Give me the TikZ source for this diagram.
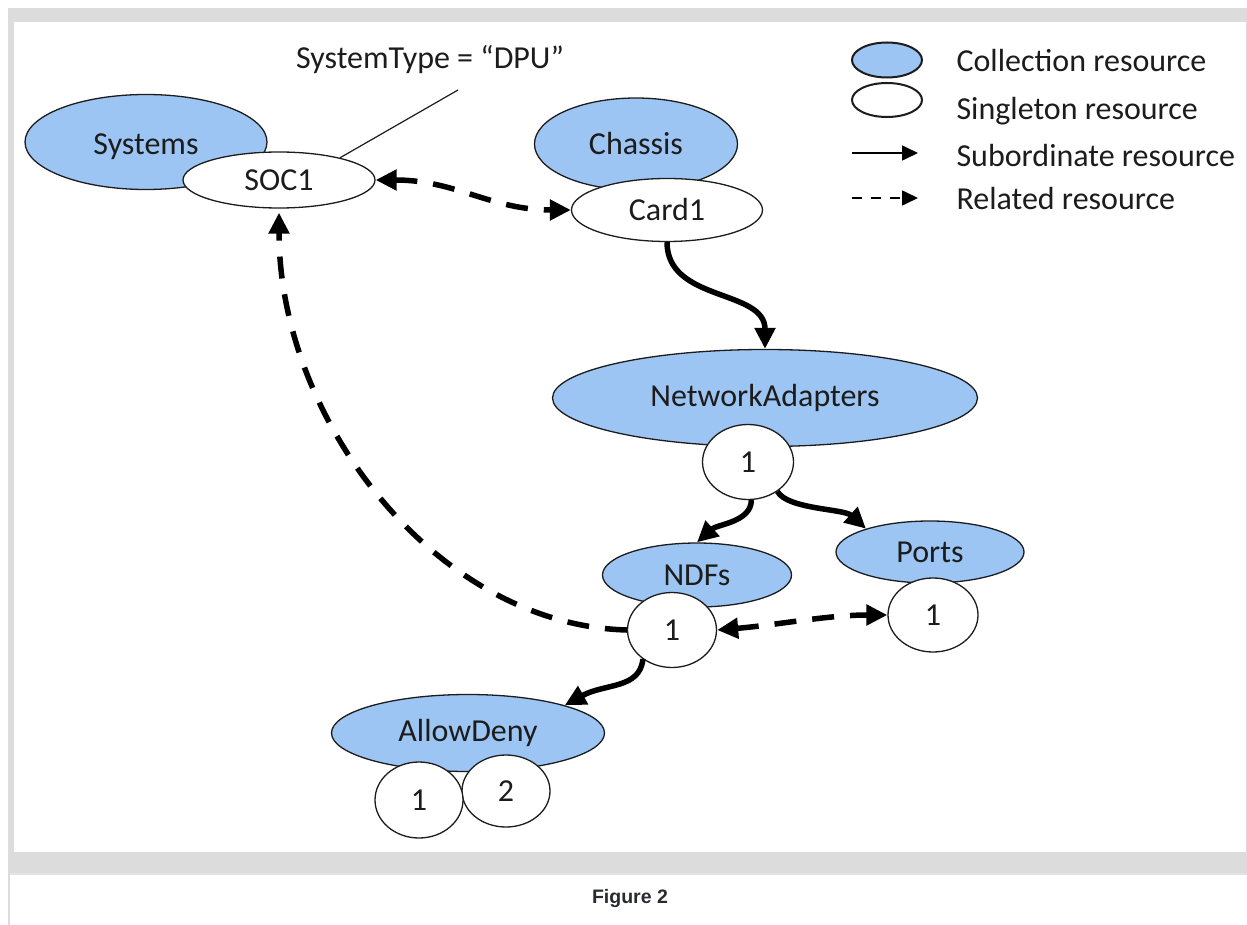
\documentclass[tikz,border=0pt]{standalone}
\usepackage{fontspec}
\setmainfont{Carlito}
\newfontfamily\capfont{Liberation Sans}
\usetikzlibrary{arrows.meta,shapes.geometric}
\definecolor{collblue}{RGB}{157,197,243}
\definecolor{framegray}{RGB}{220,220,220}
\definecolor{edgeline}{RGB}{222,228,234}
\definecolor{inkc}{RGB}{28,28,28}
\definecolor{capink}{RGB}{40,44,48}
\tikzset{
  base/.style={ellipse, draw=inkc, line width=1.3pt, inner sep=0pt, text=inkc, font=\fontsize{32}{37}\selectfont},
  coll/.style={base, fill=collblue},
  single/.style={base, fill=white},
  sz/.style 2 args={minimum width=#1pt, minimum height=#2pt},
  sub/.style={line width=5.5pt, draw=black, -{Triangle[length=21pt,width=20pt]}},
  rel/.style={line width=5.5pt, draw=black, dash pattern=on 22pt off 16pt},
  legtxt/.style={anchor=base west, text=inkc, font=\fontsize{32}{37}\selectfont},
}
\begin{document}
\begin{tikzpicture}[x=1pt,y=-1pt]
\useasboundingbox (0,0) rectangle (1247,925);
% frame
\fill[white] (0,0) rectangle (1247,925);
\fill[framegray] (8,8) rectangle (1247,873);
\fill[white] (14,22) rectangle (1245.5,852);
\fill[framegray] (8,873) rectangle (10,925);
\fill[edgeline] (10,873) rectangle (1247,875);

% nodes
\node[coll, sz={242}{95}, text height=26pt, text depth=0pt] (systems) at (146,142) {Systems};
\node[single, sz={192}{56}] (soc1) at (279,180) {SOC1};
\node[coll, sz={203}{92}] (chassis) at (636,144) {Chassis};
\node[single, sz={191}{63}] (card1) at (667,210) {Card1};
\node[coll, sz={425}{97}] (na) at (765,398) {NetworkAdapters};
\node[single, sz={91}{75}] (na1) at (748,462) {1};
\node[coll, sz={189}{64}] (ndfs) at (697,575) {NDFs};
\node[single, sz={89}{75}] (ndf1) at (672,630) {1};
\node[coll, sz={188}{62}] (ports) at (930,552) {Ports};
\node[single, sz={90}{74}] (ports1) at (933,615) {1};
\node[coll, sz={273}{77}] (allow) at (468,733) {AllowDeny};
\node[single, sz={88}{72}] (ad2) at (506,791) {2};
\node[single, sz={88}{76}] (ad1) at (419,800) {1};

% annotation
\node[anchor=base, text=inkc, font=\fontsize{32}{37}\selectfont] (systype) at (430,69) {SystemType = “DPU”};
\coordinate (stend) at (458,90);
\draw[line width=1.2pt, inkc] (stend) -- (soc1.20);

% subordinate connectors
\draw[sub] (card1.south) .. controls +(0,60) and +(0,-60) .. (na.north);
\draw[sub] (na1.-85) .. controls +(0,22) and +(20,-18) .. (ndfs.north);
\draw[sub] (na1.-45) .. controls +(10,18) and +(-22,-20) .. (ports.160);
\draw[sub] (ndf1.225) .. controls +(-3,30) and +(40,-22) .. (allow.16);

% related connectors
\draw[rel, {Triangle[length=21pt,width=20pt]}-{Triangle[length=21pt,width=20pt]}] (soc1.east) .. controls +(80,0) and +(-80,0) .. (card1.west);
\draw[rel, {Triangle[length=21pt,width=20pt]}-{Triangle[length=21pt,width=20pt]}] (ndf1.east) .. controls +(60,-5) and +(-60,0) .. (ports1.west);
\draw[rel, -{Triangle[length=21pt,width=20pt]}, shorten >=4pt] (ndf1.west) .. controls +(-190,-5) and +(0,212) .. (soc1.south);

% legend
\node[coll, sz={70}{35}, line width=2pt] (lcoll) at (887,60) {};
\node[single, sz={70}{34}, line width=2pt] (lsing) at (887,100) {};
\coordinate (lsubA) at (852,153);
\coordinate (lsubB) at (918,153);
\draw[line width=1.6pt, -{Triangle[length=16pt,width=15pt]}] (lsubA) -- (lsubB);
\coordinate (lrelA) at (852,198);
\coordinate (lrelB) at (918,198);
\draw[line width=1.6pt, dash pattern=on 10pt off 9pt, -{Triangle[length=16pt,width=15pt]}] (lrelA) -- (lrelB);
\node[legtxt] (tcoll) at (953,72) {Collection resource};
\node[legtxt] (tsing) at (953,120) {Singleton resource};
\node[legtxt] (tsub) at (953,167) {Subordinate resource};
\node[legtxt] (trel) at (953,210) {Related resource};

% caption
\node[text=capink, font=\capfont\bfseries\fontsize{19.5}{23}\selectfont] (caption) at (630,898) {Figure 2};
\end{tikzpicture}
\end{document}
